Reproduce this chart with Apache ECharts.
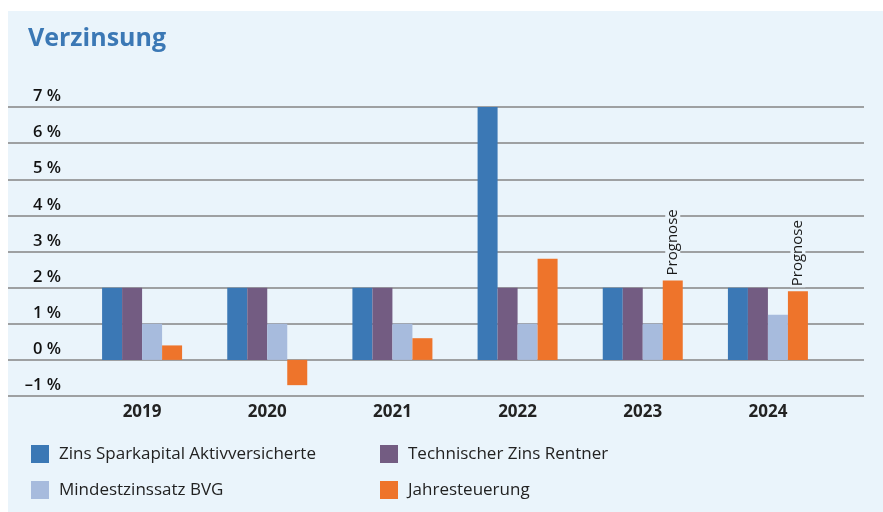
<!DOCTYPE html>
<html><head><meta charset="utf-8">
<script src="https://cdn.jsdelivr.net/npm/echarts@6/dist/echarts.min.js"></script>
<style>html,body{margin:0;padding:0;background:#fff}#c{width:883px;height:512px}</style>
</head><body><div id="c"></div>
<script>
const categories = ['2019','2020','2021','2022','2023','2024'];
const zinsSparkapital = [2, 2, 2, 7, 2, 2];
const technischerZins = [2, 2, 2, 2, 2, 2];
const mindestzins = [1, 1, 1, 1, 1, 1.25];
const jahresteuerung = [0.4, -0.7, 0.6, 2.8, 2.2, 1.9];
const prognose = [false, false, false, false, true, true];
const seriesNames = ['Zins Sparkapital Aktivversicherte','Technischer Zins Rentner','Mindestzinssatz BVG','Jahresteuerung'];
const yTicks = {min: -1, max: 7, interval: 1};

const colors = ['#3b78b5', '#735c82', '#a7bbdd', '#ee742b'];
const bg = '#eaf4fb';
const font = 'Open Sans';

const chart = echarts.init(document.getElementById('c'), null, {renderer: 'canvas'});
function bar(i, data) {
  return {
    name: seriesNames[i], type: 'bar', xAxisIndex: 1, yAxisIndex: 1,
    barWidth: 20, barGap: '0%', itemStyle: {color: colors[i]},
    data: data
  };
}
const orangeData = jahresteuerung.map((v, k) => prognose[k] ? {
  value: v,
  label: {show: true, formatter: 'Prognose', position: 'top', rotate: 90, align: 'left', verticalAlign: 'middle',
    distance: 4, color: '#1a1a1a', fontFamily: font, fontSize: 15, backgroundColor: bg, padding: [0, 1, 0, 1]}
} : v);

chart.setOption({
  animation: false,
  backgroundColor: '#fff',
  graphic: [{type: 'rect', shape: {x: 8, y: 11, width: 875, height: 501}, style: {fill: bg}, z: -10}],
  title: {text: 'Verzinsung', left: 23, top: 21, textStyle: {color: '#3b78b5', fontFamily: font, fontWeight: 'bold', fontSize: 25}},
  legend: [
    {data: [seriesNames[0], seriesNames[2]], orient: 'vertical', left: 26, top: 440, itemWidth: 18, itemHeight: 18, itemGap: 18, icon: 'rect',
     textStyle: {fontFamily: font, fontSize: 17, color: '#222', padding: [0, 0, 0, 5]}},
    {data: [seriesNames[1], seriesNames[3]], orient: 'vertical', left: 375, top: 440, itemWidth: 18, itemHeight: 18, itemGap: 18, icon: 'rect',
     textStyle: {fontFamily: font, fontSize: 17, color: '#222', padding: [0, 0, 0, 5]}}
  ],
  grid: [
    {left: 8, right: 19, top: 107, bottom: 116},
    {left: 79.5, width: 751, top: 107, bottom: 116}
  ],
  xAxis: [
    {type: 'category', gridIndex: 0, data: categories, show: false},
    {type: 'category', gridIndex: 1, data: categories, axisLine: {show: false}, axisTick: {show: false},
     axisLabel: {margin: 8, color: '#222', fontFamily: font, fontWeight: 'bold', fontSize: 17}}
  ],
  yAxis: [
    {type: 'value', gridIndex: 0, min: yTicks.min, max: yTicks.max, interval: yTicks.interval,
     axisLine: {show: false}, axisTick: {show: false},
     splitLine: {lineStyle: {color: '#858585', width: 1.5}},
     axisLabel: {inside: true, margin: 53, align: 'right', verticalAlign: 'bottom', padding: [0, 0, 2, 0],
       color: '#111', fontFamily: font, fontWeight: 600, fontSize: 16.5,
       formatter: v => (v < 0 ? '\u2013' + Math.abs(v) : v) + ' %'}},
    {type: 'value', gridIndex: 1, min: yTicks.min, max: yTicks.max, interval: yTicks.interval, show: false, splitLine: {show: false}}
  ],
  series: [
    bar(0, zinsSparkapital),
    bar(1, technischerZins),
    bar(2, mindestzins),
    bar(3, orangeData)
  ]
});
</script></body></html>
